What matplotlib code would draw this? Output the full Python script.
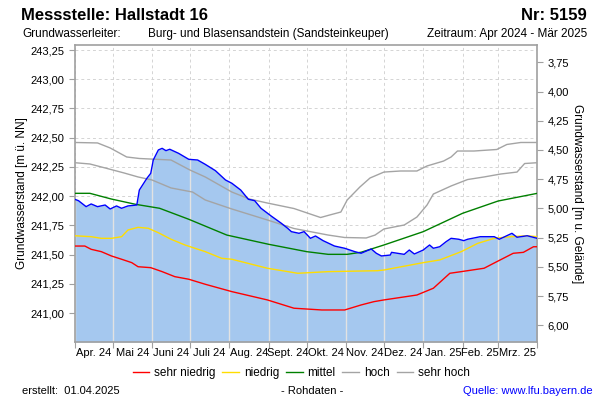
import numpy as np
import pandas as pd
import matplotlib
matplotlib.use('Agg')
import matplotlib.pyplot as plt
from matplotlib.lines import Line2D
from matplotlib.ticker import FuncFormatter, FixedLocator

plt.rcParams['font.family'] = ['Liberation Sans', 'DejaVu Sans']

mess_dates = ['2024-04-01', '2024-04-04', '2024-04-10', '2024-04-14', '2024-04-19', '2024-04-25',
              '2024-04-29', '2024-05-04', '2024-05-08', '2024-05-13', '2024-05-20', '2024-05-22',
              '2024-05-28', '2024-05-31', '2024-06-02', '2024-06-06', '2024-06-09', '2024-06-12',
              '2024-06-15', '2024-06-22', '2024-06-30', '2024-07-07', '2024-07-13', '2024-07-21',
              '2024-07-29', '2024-08-03', '2024-08-10', '2024-08-16', '2024-08-21', '2024-08-26',
              '2024-09-03', '2024-09-11', '2024-09-16', '2024-09-19', '2024-09-25', '2024-09-29',
              '2024-10-04', '2024-10-08', '2024-10-14', '2024-10-23', '2024-10-31', '2024-11-08',
              '2024-11-13', '2024-11-21', '2024-11-25', '2024-11-29', '2024-12-06', '2024-12-07',
              '2024-12-17', '2024-12-21', '2024-12-25', '2025-01-01', '2025-01-06', '2025-01-09',
              '2025-01-14', '2025-01-19', '2025-01-23', '2025-01-29', '2025-02-02', '2025-02-05',
              '2025-02-15', '2025-02-26', '2025-03-02', '2025-03-12', '2025-03-16', '2025-03-24',
              '2025-04-01']
mess_vals = [241.973, 241.961, 241.910, 241.933, 241.910, 241.924,
             241.890, 241.916, 241.896, 241.916, 241.924, 242.052,
             242.153, 242.195, 242.309, 242.395, 242.409, 242.389,
             242.401, 242.366, 242.315, 242.309, 242.272, 242.218,
             242.138, 242.110, 242.052, 241.973, 241.961, 241.896,
             241.830, 241.768, 241.725, 241.696, 241.682, 241.696,
             241.639, 241.659, 241.619, 241.573, 241.554, 241.525,
             241.511, 241.548, 241.511, 241.488, 241.496, 241.519,
             241.502, 241.539, 241.505, 241.539, 241.582, 241.554,
             241.567, 241.610, 241.639, 241.631, 241.619, 241.631,
             241.653, 241.653, 241.631, 241.682, 241.648, 241.661,
             241.639]

# Kennwerte
sn_dates = ['2024-04-01', '2024-04-09', '2024-04-14', '2024-04-22', '2024-04-30', '2024-05-08',
            '2024-05-16', '2024-05-21', '2024-05-31', '2024-06-09', '2024-06-19', '2024-06-30',
            '2024-07-13', '2024-08-03', '2024-08-31', '2024-09-21', '2024-10-13', '2024-10-31',
            '2024-11-13', '2024-11-23', '2024-12-01', '2024-12-27', '2025-01-09', '2025-01-22',
            '2025-01-31', '2025-02-18', '2025-02-28', '2025-03-13', '2025-03-21', '2025-03-29',
            '2025-04-01']
sn_vals = [241.573, 241.573, 241.545, 241.525, 241.488, 241.460,
           241.431, 241.396, 241.388, 241.354, 241.311, 241.289,
           241.246, 241.183, 241.112, 241.041, 241.026, 241.026,
           241.069, 241.097, 241.112, 241.154, 241.212, 241.340,
           241.354, 241.383, 241.439, 241.511, 241.519, 241.567,
           241.567]

n_dates = ['2024-04-01', '2024-04-14', '2024-04-22', '2024-04-30', '2024-05-08', '2024-05-13',
           '2024-05-21', '2024-05-29', '2024-06-06', '2024-06-16', '2024-06-27', '2024-07-13',
           '2024-07-26', '2024-08-03', '2024-08-31', '2024-09-24', '2024-10-18', '2024-11-26',
           '2024-12-01', '2025-01-01', '2025-01-14', '2025-01-31', '2025-02-13', '2025-02-26',
           '2025-03-11', '2025-03-24', '2025-04-01']
n_vals = [241.661, 241.653, 241.639, 241.639, 241.653, 241.710,
          241.733, 241.725, 241.687, 241.631, 241.582, 241.525,
          241.468, 241.460, 241.383, 241.340, 241.354, 241.362,
          241.368, 241.431, 241.454, 241.525, 241.596, 241.639,
          241.653, 241.661, 241.653]

m_dates = ['2024-04-01', '2024-04-13', '2024-04-30', '2024-05-19', '2024-06-07', '2024-06-30',
           '2024-07-30', '2024-09-01', '2024-10-01', '2024-10-18', '2024-11-02', '2024-11-13',
           '2024-12-01', '2025-01-01', '2025-02-01', '2025-03-01', '2025-04-01']
m_vals = [242.024, 242.024, 241.975, 241.930, 241.896, 241.802,
          241.667, 241.588, 241.525, 241.502, 241.502, 241.520,
          241.582, 241.696, 241.853, 241.958, 242.024]

h_dates = ['2024-04-01', '2024-04-13', '2024-04-25', '2024-05-10', '2024-05-21', '2024-06-01',
           '2024-06-16', '2024-07-03', '2024-07-13', '2024-08-03', '2024-08-31', '2024-09-21',
           '2024-10-18', '2024-10-31', '2024-11-17', '2024-11-24', '2024-12-01', '2024-12-17',
           '2024-12-27', '2025-01-04', '2025-01-09', '2025-01-23', '2025-02-05', '2025-02-18',
           '2025-03-03', '2025-03-16', '2025-03-22', '2025-04-01']
h_vals = [242.286, 242.275, 242.241, 242.198, 242.164, 242.138,
          242.070, 242.035, 241.967, 241.890, 241.796, 241.723,
          241.667, 241.646, 241.642, 241.667, 241.719, 241.753,
          241.821, 241.924, 242.018, 242.087, 242.142, 242.164,
          242.189, 242.206, 242.279, 242.286]

sh_dates = ['2024-04-01', '2024-04-19', '2024-04-29', '2024-05-12', '2024-05-22', '2024-06-16',
            '2024-07-01', '2024-07-13', '2024-08-03', '2024-08-17', '2024-08-31', '2024-09-21',
            '2024-10-12', '2024-10-19', '2024-10-28', '2024-11-02', '2024-11-12', '2024-11-20',
            '2024-12-01', '2024-12-14', '2024-12-27', '2025-01-04', '2025-01-17', '2025-01-23',
            '2025-01-28', '2025-02-10', '2025-02-28', '2025-03-08', '2025-03-19', '2025-04-01']
sh_vals = [242.459, 242.455, 242.412, 242.335, 242.322, 242.309,
           242.223, 242.164, 242.035, 241.975, 241.941, 241.894,
           241.817, 241.838, 241.864, 241.967, 242.078, 242.155,
           242.206, 242.215, 242.215, 242.258, 242.300, 242.335,
           242.386, 242.386, 242.399, 242.442, 242.459, 242.459]

month_labels = ['Apr. 24', 'Mai 24', 'Juni 24', 'Juli 24', 'Aug. 24', 'Sept. 24',
                'Okt. 24', 'Nov. 24', 'Dez. 24', 'Jan. 25', 'Feb. 25', 'Mrz. 25']

GELAENDE = 246.895  # Geländehöhe [m ü. NN] für die rechte Achse
Y_MIN, Y_MAX = 240.752, 243.293

fig = plt.figure(figsize=(6, 4), dpi=100)
ax = fig.add_axes([0.1245, 0.145, 0.771, 0.7425])

md = pd.to_datetime(mess_dates)
fill = ax.fill_between(md, mess_vals, Y_MIN, color='#a5c8ef', lw=0, zorder=1)

# Monatsgrenzen
bounds = pd.date_range('2024-04-01', '2025-04-01', freq='MS')
mids = bounds[:-1] + (bounds[1:] - bounds[:-1]) / 2

# helle Linien innerhalb der Fläche
vl = ax.vlines(bounds, Y_MIN, Y_MAX, colors='#e2e2e2', lw=1.0, zorder=2)
vl.set_clip_path(fill.get_paths()[0], ax.transData)

ax.plot(pd.to_datetime(sh_dates), sh_vals, color='#a4a4a4', lw=1.0, zorder=3)
ax.plot(pd.to_datetime(h_dates), h_vals, color='#a4a4a4', lw=1.0, zorder=3)
ax.plot(pd.to_datetime(m_dates), m_vals, color='#008000', lw=1.0, zorder=3)
ax.plot(pd.to_datetime(n_dates), n_vals, color='#ffdd00', lw=1.0, zorder=3)
ax.plot(pd.to_datetime(sn_dates), sn_vals, color='#ff0000', lw=1.0, zorder=3)
ax.plot(md, mess_vals, color='#0000ff', lw=1.0, zorder=4)

ax.set_xlim(bounds[0], bounds[-1])
ax.set_ylim(Y_MIN, Y_MAX)

ax.set_axisbelow(True)
ax.xaxis.set_major_locator(FixedLocator(matplotlib.dates.date2num(bounds)))
ax.xaxis.set_minor_locator(FixedLocator(matplotlib.dates.date2num(mids)))
ax.xaxis.set_major_formatter(plt.NullFormatter())
ax.xaxis.set_minor_formatter(FuncFormatter(lambda v, p: month_labels[p] if p < len(month_labels) else ''))
ax.tick_params(axis='x', which='major', length=4, color='#a0a0a0')
ax.tick_params(axis='x', which='minor', length=0, labelsize=8, pad=4)

comma = FuncFormatter(lambda v, p: f'{v:.2f}'.replace('.', ','))
ax.set_yticks(np.arange(241.0, 243.26, 0.25))
ax.yaxis.set_major_formatter(comma)
ax.tick_params(axis='y', length=4, color='#a0a0a0', labelsize=8)
ax.grid(True, which='major', ls=(0, (3, 3)), color='#d4d4d4', lw=0.7)

for sp in ax.spines.values():
    sp.set_color('#a0a0a0')
    sp.set_linewidth(1.2)

ax.set_ylabel('Grundwasserstand [m ü. NN]', fontsize=8.5, labelpad=2)

# rechte Achse: Flurabstand
ax2 = ax.twinx()
ax2.set_ylim(GELAENDE - Y_MIN, GELAENDE - Y_MAX)
ax2.set_yticks(np.arange(3.75, 6.01, 0.25))
ax2.yaxis.set_major_formatter(comma)
ax2.tick_params(axis='y', length=4, color='#a0a0a0', labelsize=8)
for sp in ax2.spines.values():
    sp.set_visible(False)
ax2.set_ylabel('Grundwasserstand [m u. Gelände]', fontsize=8.5, rotation=270, labelpad=10)

# Kopfzeilen
fig.text(0.035, 0.962, 'Messstelle: Hallstadt 16', fontsize=12, fontweight='bold', va='center')
fig.text(0.978, 0.962, 'Nr: 5159', fontsize=12, fontweight='bold', va='center', ha='right')
fig.text(0.037, 0.915, 'Grundwasserleiter:', fontsize=8.5, va='center')
fig.text(0.247, 0.915, 'Burg- und Blasensandstein (Sandsteinkeuper)', fontsize=8.5, va='center')
fig.text(0.978, 0.915, 'Zeitraum: Apr 2024 - Mär 2025', fontsize=8.5, va='center', ha='right')

# Legende
handles = [Line2D([], [], color='#ff0000', lw=1),
           Line2D([], [], color='#ffdd00', lw=1),
           Line2D([], [], color='#008000', lw=1),
           Line2D([], [], color='#a4a4a4', lw=1),
           Line2D([], [], color='#a4a4a4', lw=1)]
fig.legend(handles, ['sehr niedrig', 'niedrig', 'mittel', 'hoch', 'sehr hoch'],
           loc='center', bbox_to_anchor=(0.502, 1 - 373 / 400), ncol=5, frameon=False,
           fontsize=8.5, handlelength=1.4, handletextpad=0.4, columnspacing=0.6)

# Fußzeile
fig.text(0.037, 1 - 391 / 400, 'erstellt:  01.04.2025', fontsize=8, va='center')
fig.text(0.52, 1 - 391 / 400, '- Rohdaten -', fontsize=8, va='center', ha='center')
fig.text(0.987, 1 - 391 / 400, 'Quelle: www.lfu.bayern.de', fontsize=8, va='center',
         ha='right', color='#0000ff')

fig.savefig('out.png', dpi=100)
